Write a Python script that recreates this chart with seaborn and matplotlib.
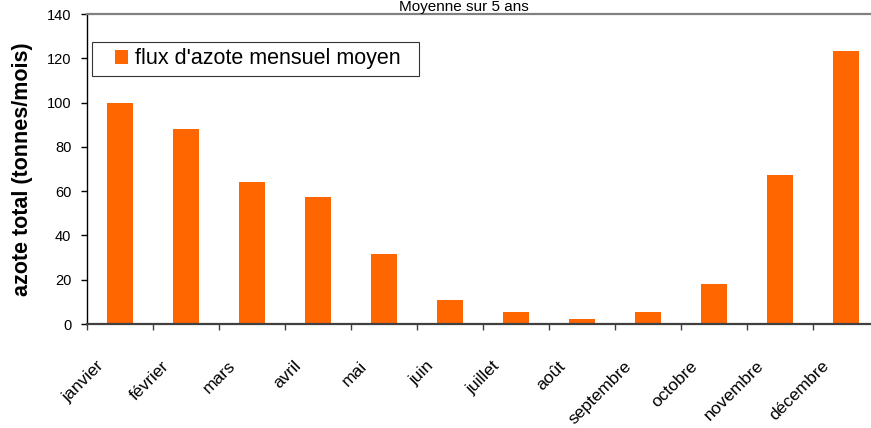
import numpy as np
import matplotlib
matplotlib.use("Agg")
import matplotlib.pyplot as plt
from matplotlib.transforms import ScaledTranslation
from matplotlib.patches import Rectangle
from matplotlib.legend_handler import HandlerPatch
import seaborn as sns

months = ["janvier", "février", "mars", "avril", "mai", "juin", "juillet",
          "août", "septembre", "octobre", "novembre", "décembre"]
flux = [100, 88, 64, 57.5, 31.5, 10.8, 5.3, 2.4, 5.3, 18, 67.5, 123.5]
series_label = "flux d'azote mensuel moyen"
y_ticks = [0, 20, 40, 60, 80, 100, 120, 140]
title = "Moyenne sur 5 ans"
ylabel = "azote total (tonnes/mois)"

sns.set_theme(style="white")
plt.rcParams["font.family"] = ["Liberation Sans", "DejaVu Sans"]
plt.rcParams["text.color"] = "black"
plt.rcParams["axes.labelcolor"] = "black"
plt.rcParams["xtick.color"] = "black"
plt.rcParams["ytick.color"] = "black"

W, H = 871, 428
fig = plt.figure(figsize=(W / 100, H / 100), dpi=100)
# plot area runs past the right edge of the figure
ax = fig.add_axes([87 / W, 1 - 324 / H, 792 / W, 310 / H])

sns.barplot(x=months, y=flux, order=months, color="#FF6600", saturation=1,
            width=0.4, ax=ax, linewidth=0)

ax.set_xlim(-0.5, 11.5)
ax.set_ylim(0, 140)
ax.set_yticks(y_ticks)
ax.set_yticklabels([str(t) for t in y_ticks], fontsize=10.5)
ax.set_xlabel("")
ax.set_ylabel(ylabel, fontsize=15.5, fontweight="bold")
ax.yaxis.set_label_coords(-0.068, 0.5)

# spines
ax.spines["top"].set_color("#808080")
ax.spines["top"].set_linewidth(1.6)
ax.spines["bottom"].set_color("#404040")
ax.spines["bottom"].set_linewidth(1.6)
ax.spines["left"].set_color("black")
ax.spines["left"].set_linewidth(1.0)
ax.spines["right"].set_visible(False)

ax.tick_params(axis="y", which="major", direction="out", length=4.3,
               width=1, color="black", pad=7, left=True)
ax.set_xticks(np.arange(-0.5, 12, 1), minor=True)
ax.tick_params(axis="x", which="minor", direction="out", length=4.3,
               width=1, color="#404040", bottom=True)
ax.set_xticks(range(12), labels=months)
ax.tick_params(axis="x", which="major", length=0, pad=28.5, labelsize=12.5)
shift = ScaledTranslation(-0.19, 0, fig.dpi_scale_trans)
for lbl in ax.get_xticklabels():
    lbl.set_rotation(45)
    lbl.set_ha("right")
    lbl.set_va("center")
    lbl.set_rotation_mode("anchor")
    lbl.set_transform(lbl.get_transform() + shift)


def square_marker(legend, orig_handle, xdescent, ydescent, width, height,
                  fontsize):
    s = 0.62 * fontsize
    return Rectangle((-xdescent + width - s, -ydescent + (height - s) / 2),
                     s, s)


leg = ax.legend([ax.patches[0]], [series_label], loc="upper left",
                bbox_to_anchor=(5 / 792, 1 - 28 / 310, 327 / 792, 0),
                mode="expand", borderaxespad=0,
                fontsize=15.5, frameon=True, fancybox=False, shadow=False,
                handler_map={Rectangle: HandlerPatch(patch_func=square_marker)},
                handlelength=1.37, handleheight=0.7, handletextpad=0.33,
                borderpad=0.3)
leg.get_frame().set_edgecolor("black")
leg.get_frame().set_linewidth(0.8)

fig.text(464 / W, 1 - 11.5 / H, title, ha="center", va="baseline",
         fontsize=11)

fig.savefig("out.png", dpi=100)
